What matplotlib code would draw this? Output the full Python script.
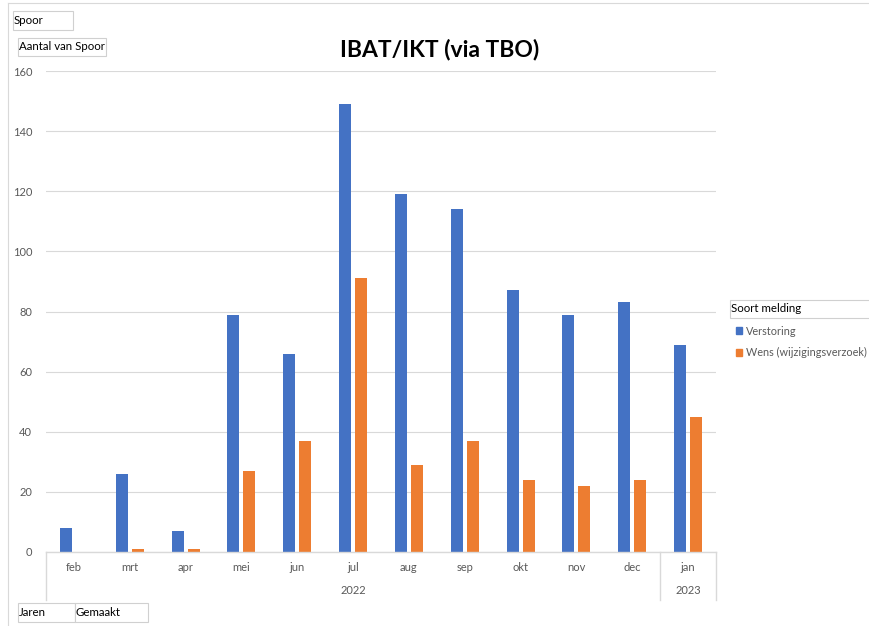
import matplotlib.pyplot as plt
from matplotlib.patches import Rectangle
from matplotlib.lines import Line2D
import numpy as np

# Data
maanden = ['feb', 'mrt', 'apr', 'mei', 'jun', 'jul', 'aug', 'sep', 'okt', 'nov', 'dec', 'jan']
jaren = ['2022', '2023']
jaar_aantal = [11, 1]  # number of months per year group
verstoring = [8, 26, 7, 79, 66, 149, 119, 114, 87, 79, 83, 69]
wens = [0, 1, 1, 27, 37, 91, 29, 37, 24, 22, 24, 45]

BLUE = '#4472C4'
ORANGE = '#ED7D31'
GRAY_TXT = '#595959'
GRID = '#D9D9D9'

plt.rcParams['font.family'] = ['Lato', 'DejaVu Sans']

W, H = 870, 626
fig = plt.figure(figsize=(W / 100, H / 100), dpi=100)


def px(x, y):
    """pixel (from top-left) -> figure fraction"""
    return x / W, 1 - y / H


# Plot area
x0, x1, y_top, y_bot = 46, 716, 71, 552
l, b = px(x0, y_bot)
ax = fig.add_axes([l, b, (x1 - x0) / W, (y_bot - y_top) / H])

x = np.arange(len(maanden))
bw = 0.215
gap = 0.035
ax.bar(x - bw / 2 - gap, verstoring, bw, color=BLUE, label='Verstoring')
ax.bar(x + bw / 2 + gap, wens, bw, color=ORANGE, label='Wens (wijzigingsverzoek)')

ax.set_xlim(-0.5, len(maanden) - 0.5)
ax.set_ylim(0, 160)
ax.set_yticks(range(0, 161, 20))
ax.yaxis.grid(True, color=GRID, linewidth=0.8)
ax.set_axisbelow(True)
for s in ['top', 'right', 'left']:
    ax.spines[s].set_visible(False)
ax.spines['bottom'].set_color(GRID)
ax.spines['bottom'].set_linewidth(1.0)
ax.tick_params(axis='y', length=0, labelsize=8, labelcolor=GRAY_TXT, pad=10)
ax.set_xticks(x)
ax.set_xticklabels(maanden)
ax.tick_params(axis='x', length=0, labelsize=8, labelcolor=GRAY_TXT, pad=7)

# Multi-level category axis: year groups with separators
trans = ax.get_xaxis_transform()
depth = 48 / (y_bot - y_top)
start = -0.5
grenzen = [start]
for naam, n in zip(jaren, jaar_aantal):
    midden = start + n / 2
    ax.text(midden, -38 / (y_bot - y_top), naam, transform=trans, ha='center', va='center',
            fontsize=8, color=GRAY_TXT)
    start += n
    grenzen.append(start)
for g in grenzen:
    ax.plot([g, g], [0, -depth], transform=trans, color=GRID, linewidth=1.0, clip_on=False)

# Title
fig.text(*px(440, 50), 'IBAT/IKT (via TBO)', ha='center', va='center',
         fontsize=16.5, fontweight='bold', color='black')


def veld_knop(xa, ya, xb, yb, tekst):
    lx, by = px(xa, yb)
    fig.patches.append(Rectangle((lx, by), (xb - xa) / W, (yb - ya) / H,
                                 transform=fig.transFigure, facecolor='white',
                                 edgecolor='#D0D0D0', linewidth=0.8))
    fig.text(*px(xa + 1, (ya + yb) / 2), tekst, ha='left', va='center',
             fontsize=8.3, color='black')


veld_knop(13, 11, 73, 30, 'Spoor')
veld_knop(18, 38, 106, 56, 'Aantal van Spoor')
veld_knop(18, 603, 75, 622, 'Jaren')
veld_knop(75, 603, 148, 622, 'Gemaakt')
veld_knop(730, 300, 872, 318, 'Soort melding')

# Legend
handles = [Rectangle((0, 0), 1, 1, color=BLUE), Rectangle((0, 0), 1, 1, color=ORANGE)]
fig.legend(handles, ['Verstoring', 'Wens (wijzigingsverzoek)'],
           loc='upper left', bbox_to_anchor=px(728, 318), frameon=False,
           fontsize=7.8, labelcolor=GRAY_TXT, handlelength=0.6, handleheight=0.6,
           handletextpad=0.35, labelspacing=1.0, borderpad=0.2)

# Chart border (light)
fig.add_artist(Line2D([8 / W, 1], [1 - 3 / H, 1 - 3 / H], transform=fig.transFigure,
                      color='#D9D9D9', linewidth=0.8))
fig.add_artist(Line2D([8 / W, 8 / W], [1 - 3 / H, 0], transform=fig.transFigure,
                      color='#D9D9D9', linewidth=0.8))

fig.savefig('out.png', dpi=100)
